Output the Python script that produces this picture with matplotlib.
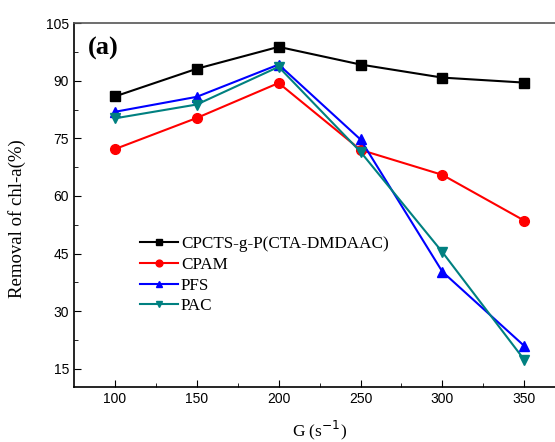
import numpy as np
from matplotlib import pyplot as plt

G = [100, 150, 200, 250, 300, 350]
cpcts = [85.9, 93.1, 98.8, 94.2, 90.8, 89.5]
cpam = [72.2, 80.3, 89.4, 72.0, 65.5, 53.6]
pfs = [81.9, 85.8, 94.2, 74.7, 40.3, 21.0]
pac = [80.2, 83.8, 93.6, 71.5, 45.4, 17.4]

series = [
    ("CPCTS-g-P(CTA-DMDAAC)", cpcts, "black", "s"),
    ("CPAM", cpam, "red", "o"),
    ("PFS", pfs, "blue", "^"),
    ("PAC", pac, "#008080", "v"),
]

serif = "Liberation Serif"
sans = "Liberation Sans"

fig = plt.figure(figsize=(5.55, 4.42), dpi=100)
ax = fig.add_axes([0.1333, 0.1244, 0.885, 0.8235])

for name, vals, col, mk in series:
    ax.plot(G, vals, color=col, marker=mk, markersize=7, linewidth=1.5, label=name)

ax.set_xlim(75, 375)
ax.set_ylim(10.3, 105)
ax.set_xticks(G)
ax.set_xticks(np.arange(125, 376, 50), minor=True)
ax.set_yticks(np.arange(15, 106, 15))
ax.set_yticks(np.arange(22.5, 105, 15), minor=True)
ax.tick_params(which="both", direction="in", top=False, right=False)
ax.tick_params(which="major", length=5, labelsize=10)
ax.tick_params(which="minor", length=3)
for lab in ax.get_xticklabels() + ax.get_yticklabels():
    lab.set_family(sans)
for s in ax.spines.values():
    s.set_linewidth(1.2)
ax.spines["top"].set_color("#555555")

ax.set_xlabel("G (s$^{-1}$)", family=serif, fontsize=12.5)
ax.xaxis.set_label_coords(0.5, -0.088)
ax.set_ylabel("Removal of chl-a(%)", family=serif, fontsize=13.5)
ax.yaxis.set_label_coords(-0.098, 0.464)
ax.text(0.028, 0.962, "(a)", transform=ax.transAxes, family=serif, fontsize=19,
        fontweight="bold", va="top")

leg = ax.legend(loc="upper left", bbox_to_anchor=(0.103, 0.457), frameon=False,
                prop={"family": serif, "size": 12.3}, handlelength=2.2,
                handletextpad=0.2, labelspacing=0.28, markerscale=0.7)

fig.savefig("out.png", dpi=100)
